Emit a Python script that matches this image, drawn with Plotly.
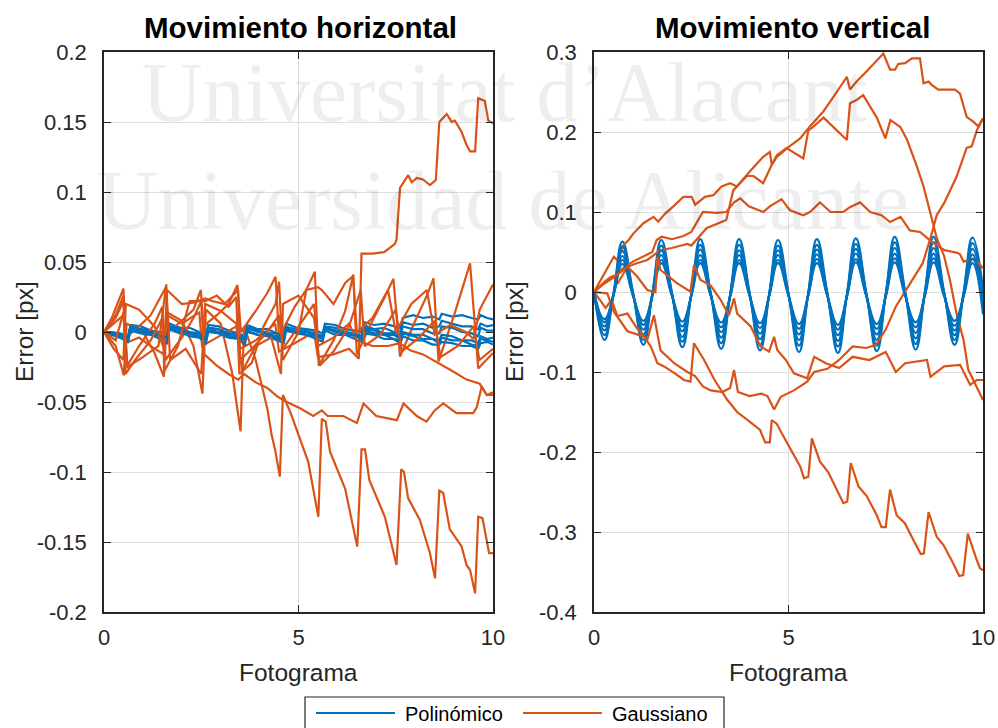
import plotly.graph_objects as go

# ---------------- data ----------------
BLUE = "#0072BD"
ORANGE = "#D95319"

# Horizontal motion: polynomial interpolation error (shared frame positions)
H_POLY_X = [0, 0.2, 0.4, 0.62,
            0.68, 0.95, 1.2, 1.45, 1.62, 1.68, 1.95, 2.2, 2.45, 2.62, 2.68, 2.95, 3.2, 3.45, 3.62,
            3.68, 3.95, 4.2, 4.45, 4.62, 4.68, 4.95, 5.2, 5.45, 5.62, 5.68, 5.95, 6.2, 6.45, 6.62,
            6.68, 6.95, 7.2, 7.45, 7.62, 7.68, 7.95, 8.2, 8.45, 8.62, 8.68, 8.95, 9.2, 9.45, 9.62,
            9.68, 9.85, 10]
H_POLY_1 = [0, 0.0, -0.001, -0.003,
            0.005, 0.004, 0.001, 0.0, -0.002,
            0.006, 0.003, 0.003, 0.0, -0.002,
            0.005, 0.004, 0.001, -0.001, -0.003,
            0.005, 0.002, 0.002, -0.001, -0.002,
            0.006, 0.003, 0.002, 0.001, -0.001,
            0.006, 0.005, 0.002, 0.001, 0.0,
            0.007, 0.005, 0.006, 0.004, 0.003,
            0.010, 0.012, 0.010, 0.011, 0.009,
            0.013, 0.011, 0.012, 0.010, 0.009,
            0.012, 0.010, 0.009]
H_POLY_2 = [0, -0.001, -0.003, -0.004,
            0.003, 0.002, -0.001, -0.002, -0.005,
            0.004, 0.001, 0.0, -0.003, -0.004,
            0.003, 0.002, -0.002, -0.002, -0.005,
            0.003, 0.0, -0.001, -0.004, -0.005,
            0.004, 0.001, 0.001, -0.002, -0.003,
            0.004, 0.003, 0.0, -0.001, -0.003,
            0.005, 0.002, 0.003, 0.0, 0.0,
            0.007, 0.005, 0.006, 0.003, 0.004,
            0.008, 0.006, 0.004, 0.004, 0.002,
            0.006, 0.004, 0.005]
H_POLY_3 = [0, -0.002, -0.003, -0.006,
            0.002, 0.001, -0.002, -0.003, -0.006,
            0.002, -0.001, -0.001, -0.004, -0.006,
            0.001, 0.0, -0.003, -0.004, -0.007,
            0.001, -0.002, -0.002, -0.005, -0.006,
            0.002, 0.001, -0.002, -0.003, -0.005,
            0.003, 0.0, 0.0, -0.003, -0.004,
            0.003, 0.002, -0.001, -0.001, -0.003,
            0.004, 0.002, 0.002, -0.001, -0.001,
            0.004, 0.003, 0.0, -0.001, -0.003,
            0.003, 0.001, 0.001]
H_POLY_4 = [0, -0.001, -0.002, -0.004,
            0.004, 0.002, 0.001, -0.002, -0.003,
            0.004, 0.003, 0.0, -0.001, -0.004,
            0.003, 0.002, -0.001, -0.002, -0.004,
            0.003, 0.002, -0.001, -0.001, -0.004,
            0.003, 0.002, 0.0, -0.001, -0.003,
            0.003, 0.001, 0.0, -0.003, -0.004,
            0.002, 0.001, -0.002, -0.002, -0.005,
            0.0, -0.002, -0.002, -0.005, -0.006,
            -0.002, -0.003, -0.006, -0.006, -0.008,
            -0.003, -0.005, -0.004]
H_POLY_5 = [0, -0.002, -0.004, -0.007,
            0.001, -0.001, -0.002, -0.005, -0.008,
            0.002, 0.0, -0.003, -0.004, -0.008,
            0.0, -0.001, -0.004, -0.005, -0.009,
            0.0, -0.002, -0.003, -0.006, -0.008,
            0.001, -0.001, -0.002, -0.005, -0.007,
            0.001, -0.002, -0.002, -0.005, -0.007,
            -0.001, -0.002, -0.005, -0.005, -0.008,
            -0.003, -0.006, -0.006, -0.009, -0.009,
            -0.007, -0.008, -0.010, -0.010, -0.012,
            -0.008, -0.007, -0.009]
H_POLY_6 = [0, -0.001, -0.003, -0.004,
            0.003, 0.0, 0.0, -0.003, -0.004,
            0.003, 0.002, -0.001, -0.002, -0.005,
            0.002, 0.0, -0.001, -0.004, -0.005,
            0.002, 0.001, -0.002, -0.003, -0.006,
            0.002, 0.0, 0.0, -0.003, -0.004,
            0.002, 0.001, -0.002, -0.002, -0.005,
            0.001, -0.001, -0.002, -0.005, -0.006,
            -0.001, -0.003, -0.005, -0.005, -0.008,
            -0.004, -0.006, -0.006, -0.009, -0.010,
            -0.005, -0.006, -0.007]

# Horizontal motion: Gaussian interpolation error, (frame, error) pairs
H_GAUSS_1 = [(0, 0), (0.25, 0.006), (0.5, 0.012), (0.55, -0.008), (0.9, -0.004), (1.3, -0.012), (1.55, -0.016),
             (1.62, 0.012), (2.0, 0.006), (2.45, 0.014), (2.52, -0.01), (2.9, -0.004), (3.4, 0.004), (3.5, -0.012),
             (3.9, -0.006), (4.4, 0.006), (4.5, -0.014), (4.9, -0.008), (5.4, 0.0), (5.5, -0.018), (5.9, -0.016),
             (6.3, -0.012), (6.55, -0.019), (6.62, 0.056), (6.9, 0.056), (7.2, 0.057), (7.48, 0.063), (7.52, 0.066),
             (7.61, 0.103), (7.82, 0.112), (7.91, 0.107), (8.04, 0.110), (8.2, 0.109), (8.38, 0.105), (8.53, 0.1086),
             (8.62, 0.150), (8.81, 0.1557), (8.94, 0.150), (9.02, 0.151), (9.19, 0.143), (9.32, 0.1336), (9.41, 0.129),
             (9.54, 0.129), (9.62, 0.167), (9.79, 0.165), (9.88, 0.151), (10, 0.149)]
H_GAUSS_2 = [(0, 0), (0.2, 0.01), (0.5, 0.031), (0.56, -0.004), (0.9, 0.004), (1.2, 0.012), (1.59, 0.032), (1.65, 0.0),
             (2.0, 0.008), (2.3, 0.016), (2.49, 0.03), (2.55, 0.004), (2.9, 0.012), (3.2, 0.02), (3.43, 0.0336),
             (3.52, 0.0), (3.9, 0.015), (4.2, 0.028), (4.41, 0.0395), (4.5, -0.004), (4.9, 0.018), (5.2, 0.03),
             (5.42, 0.043), (5.52, -0.024), (5.9, -0.006), (6.2, 0.015), (6.41, 0.041), (6.5, -0.016), (6.9, 0.008),
             (7.2, 0.024), (7.44, 0.038), (7.61, -0.0176), (8.0, 0.008), (8.3, 0.026), (8.47, 0.0383), (8.6, -0.021),
             (9.0, 0.012), (9.2, 0.03), (9.41, 0.049), (9.62, -0.026), (10, -0.015)]
H_GAUSS_3 = [(0, 0), (0.3, -0.01), (0.51, -0.031), (0.58, 0.006), (1.0, 0.0), (1.3, -0.015), (1.54, -0.032),
             (1.62, 0.014), (2.0, 0.008), (2.3, -0.01), (2.53, -0.044), (2.62, 0.016), (3.0, 0.006), (3.3, -0.03),
             (3.51, -0.071), (3.6, 0.004), (3.9, -0.02), (4.2, -0.055), (4.31, -0.0736), (4.4, -0.0843),
             (4.52, -0.1033), (4.6, -0.045), (4.8, -0.058), (5.04, -0.077), (5.25, -0.0927), (5.51, -0.132),
             (5.6, -0.062), (5.7, -0.064), (5.81, -0.0855), (6.2, -0.112), (6.51, -0.1533), (6.62, -0.0838),
             (6.71, -0.0838), (6.82, -0.1057), (7.22, -0.132), (7.52, -0.1664), (7.64, -0.098), (7.71, -0.0998),
             (7.82, -0.1188), (8.12, -0.1343), (8.38, -0.158), (8.51, -0.176), (8.62, -0.1133), (8.72, -0.115),
             (8.89, -0.141), (9.19, -0.153), (9.32, -0.1664), (9.41, -0.170), (9.54, -0.1867), (9.62, -0.132),
             (9.73, -0.133), (9.9, -0.158), (10, -0.158)]
H_GAUSS_4 = [(0, 0), (0.3, 0.01), (0.5, 0.022), (0.6, -0.024), (0.9, -0.01), (1.3, 0.006), (1.5, 0.018), (1.58, -0.02),
             (2.0, -0.004), (2.3, 0.01), (2.5, 0.022), (2.58, -0.016), (2.9, -0.024), (3.2, -0.03), (3.45, -0.034),
             (3.6, -0.03), (3.9, -0.036), (4.2, -0.04), (4.45, -0.046), (4.7, -0.05), (5.04, -0.0545), (5.38, -0.06),
             (5.6, -0.056), (5.75, -0.06), (6.15, -0.06), (6.5, -0.065), (6.67, -0.051), (7.0, -0.06), (7.53, -0.063),
             (7.7, -0.051), (8.04, -0.06), (8.29, -0.064), (8.5, -0.056), (8.72, -0.051), (9.06, -0.058),
             (9.49, -0.058), (9.58, -0.054), (9.71, -0.039), (9.84, -0.045), (10, -0.043)]
H_GAUSS_5 = [(0, 0), (0.25, -0.012), (0.5, -0.02), (0.56, 0.02), (0.9, 0.016), (1.3, 0.004), (1.55, -0.012),
             (1.62, 0.03), (2.0, 0.02), (2.3, 0.021), (2.6, 0.024), (2.8, 0.022), (3.1, 0.02), (3.45, 0.03),
             (3.5, -0.02), (3.8, -0.012), (4.2, 0.0), (4.5, 0.012), (4.6, -0.012), (5.0, 0.004), (5.4, 0.02),
             (5.5, -0.01), (5.9, -0.004), (6.3, 0.006), (6.5, -0.006), (6.9, -0.01), (7.3, -0.01), (7.6, -0.008),
             (7.87, -0.013), (8.2, -0.016), (8.46, -0.02), (8.9, -0.027), (9.32, -0.034), (9.66, -0.037),
             (9.84, -0.045), (10, -0.045)]
H_GAUSS_6 = [(0, 0), (0.3, 0.012), (0.5, 0.026), (0.55, -0.03), (0.8, -0.02), (1.2, -0.006), (1.5, 0.01),
             (1.55, -0.028), (1.9, -0.01), (2.2, 0.022), (2.6, 0.022), (2.9, 0.026), (3.2, 0.018), (3.4, 0.025),
             (3.48, -0.03), (3.8, -0.022), (4.1, 0.004), (4.41, 0.02), (4.5, 0.036), (4.6, -0.02), (5.0, 0.0),
             (5.2, 0.03), (5.5, 0.032), (5.6, 0.03), (5.9, 0.02), (6.2, 0.035), (6.4, 0.04), (6.5, 0.0), (6.9, 0.01),
             (7.3, 0.03), (7.5, 0.0), (7.9, 0.02), (8.3, 0.03), (8.5, -0.002), (8.9, 0.005), (9.3, 0.0),
             (9.5, -0.005), (9.66, 0.016), (10, 0.034)]
H_GAUSS_7 = [(0, 0), (0.3, -0.006), (0.5, 0.014), (0.6, -0.025), (1.0, -0.018), (1.4, -0.01), (1.6, 0.034),
             (1.7, -0.02), (2.1, -0.012), (2.5, -0.03), (2.6, 0.02), (3.0, 0.015), (3.4, 0.006), (3.55, -0.028),
             (3.9, -0.01), (4.3, -0.004), (4.55, -0.03), (4.6, 0.02), (5.0, 0.026), (5.4, 0.01), (5.55, -0.024),
             (5.9, -0.014), (6.3, 0.004), (6.6, 0.03), (6.7, -0.01), (7.1, -0.002), (7.5, 0.016), (7.65, -0.014),
             (8.1, -0.004), (8.5, 0.008), (8.65, -0.018), (9.1, -0.01), (9.5, 0.004), (9.65, -0.02), (10, -0.012)]

# Vertical motion: polynomial interpolation error (trough / mid / crest / mid per frame)
V_POLY_X = [0,
            0.27, 0.5, 0.73, 1.0, 1.27, 1.5, 1.73, 2.0, 2.27, 2.5, 2.73, 3.0, 3.27, 3.5, 3.73, 4.0,
            4.27, 4.5, 4.73, 5.0, 5.27, 5.5, 5.73, 6.0, 6.27, 6.5, 6.73, 7.0, 7.27, 7.5, 7.73, 8.0,
            8.27, 8.5, 8.73, 9.0, 9.27, 9.5, 9.73, 10]
V_POLY_1 = [0,
            -0.060, -0.002, 0.063, 0.0, -0.066, -0.002, 0.065, 0.0, -0.069, -0.003, 0.066, -0.001,
            -0.071, -0.003, 0.066, -0.001, -0.073, -0.004, 0.065, -0.002, -0.075, -0.004, 0.066, -0.002,
            -0.076, -0.004, 0.067, -0.001, -0.074, -0.003, 0.069, 0.0, -0.072, -0.002, 0.069, 0.0,
            -0.066, -0.001, 0.068, 0.004]
V_POLY_2 = [0,
            -0.054, -0.003, 0.057, -0.001, -0.060, -0.003, 0.058, -0.001, -0.062, -0.003, 0.059, -0.002,
            -0.064, -0.004, 0.059, -0.002, -0.066, -0.004, 0.058, -0.003, -0.067, -0.004, 0.059, -0.003,
            -0.068, -0.004, 0.060, -0.002, -0.067, -0.003, 0.062, -0.001, -0.065, -0.003, 0.062, -0.001,
            -0.060, -0.002, 0.061, -0.004]
V_POLY_3 = [0,
            -0.048, -0.003, 0.051, -0.002, -0.053, -0.003, 0.052, -0.002, -0.056, -0.004, 0.053, -0.002,
            -0.057, -0.004, 0.052, -0.003, -0.059, -0.004, 0.052, -0.003, -0.060, -0.005, 0.053, -0.003,
            -0.061, -0.004, 0.054, -0.003, -0.060, -0.003, 0.055, -0.002, -0.058, -0.003, 0.055, -0.002,
            -0.054, -0.003, 0.054, -0.008]
V_POLY_4 = [0,
            -0.043, -0.004, 0.045, -0.003, -0.047, -0.004, 0.046, -0.003, -0.049, -0.004, 0.046, -0.003,
            -0.050, -0.005, 0.046, -0.004, -0.052, -0.005, 0.046, -0.004, -0.053, -0.005, 0.047, -0.004,
            -0.054, -0.005, 0.048, -0.004, -0.053, -0.004, 0.048, -0.003, -0.051, -0.004, 0.048, -0.003,
            -0.048, -0.004, 0.047, -0.012]
V_POLY_5 = [0,
            -0.038, -0.004, 0.040, -0.004, -0.041, -0.005, 0.040, -0.004, -0.043, -0.005, 0.040, -0.004,
            -0.044, -0.005, 0.040, -0.004, -0.045, -0.005, 0.040, -0.004, -0.046, -0.006, 0.041, -0.005,
            -0.047, -0.006, 0.041, -0.005, -0.046, -0.005, 0.042, -0.004, -0.044, -0.005, 0.042, -0.004,
            -0.042, -0.005, 0.041, -0.020]
V_POLY_6 = [0,
            -0.034, -0.004, 0.035, -0.004, -0.036, -0.005, 0.036, -0.004, -0.037, -0.005, 0.036, -0.005,
            -0.038, -0.006, 0.036, -0.005, -0.039, -0.006, 0.036, -0.005, -0.040, -0.006, 0.036, -0.005,
            -0.041, -0.006, 0.037, -0.005, -0.040, -0.006, 0.037, -0.005, -0.038, -0.006, 0.037, -0.005,
            -0.036, -0.006, 0.036, -0.028]

# Vertical motion: Gaussian interpolation error, (frame, error) pairs
V_GAUSS_1 = [(0, 0), (0.25, 0.022), (0.51, 0.044), (0.6, 0.04), (0.75, 0.058), (0.89, 0.065), (1.01, 0.073),
             (1.27, 0.086), (1.53, 0.094), (1.65, 0.088), (1.83, 0.098), (2.04, 0.107), (2.3, 0.119), (2.51, 0.119),
             (2.6, 0.109), (2.85, 0.119), (3.07, 0.121), (3.28, 0.132), (3.5, 0.136), (3.67, 0.132), (3.88, 0.144),
             (4.05, 0.153), (4.35, 0.169), (4.52, 0.175), (4.57, 0.159), (4.7, 0.169), (5.0, 0.181), (5.3, 0.192),
             (5.55, 0.207), (5.9, 0.226), (6.24, 0.25), (6.5, 0.269), (6.58, 0.253), (6.75, 0.263), (7.01, 0.276),
             (7.44, 0.298), (7.61, 0.278), (7.74, 0.278), (7.82, 0.285), (8.0, 0.286), (8.17, 0.292), (8.38, 0.292),
             (8.47, 0.261), (8.6, 0.263), (8.68, 0.259), (8.85, 0.253), (9.28, 0.253), (9.41, 0.248), (9.58, 0.219),
             (9.75, 0.213), (9.88, 0.207), (10, 0.217)]
V_GAUSS_2 = [(0, 0), (0.3, 0.014), (0.51, 0.02), (0.6, 0.01), (0.86, 0.0315), (1.1, 0.036), (1.37, 0.04),
             (1.5, 0.045), (1.7, 0.052), (2.0, 0.055), (2.4, 0.06), (2.5, 0.058), (2.77, 0.072), (2.9, 0.08),
             (3.15, 0.085), (3.4, 0.09), (3.58, 0.127), (3.93, 0.145), (4.1, 0.145), (4.35, 0.136), (4.56, 0.158),
             (4.7, 0.171), (4.95, 0.18), (5.38, 0.167), (5.51, 0.202), (5.6, 0.205), (5.9, 0.218), (6.24, 0.202),
             (6.5, 0.19), (6.58, 0.236), (6.75, 0.24), (6.92, 0.246), (7.27, 0.218), (7.49, 0.192), (7.62, 0.215),
             (7.88, 0.206), (8.05, 0.19), (8.3, 0.157), (8.47, 0.132), (8.64, 0.1), (8.81, 0.0675), (9.0, 0.045),
             (9.15, 0.015), (9.32, -0.027), (9.5, -0.06), (9.62, -0.097), (9.84, -0.118), (10, -0.135)]
V_GAUSS_3 = [(0, 0), (0.4, 0.018), (0.56, 0.021), (0.75, 0.03), (1.0, 0.038), (1.3, 0.045), (1.5, 0.05),
             (1.61, 0.065), (1.74, 0.069), (2.0, 0.066), (2.3, 0.07), (2.5, 0.075), (2.8, 0.1), (3.15, 0.099),
             (3.4, 0.1), (3.6, 0.112), (3.76, 0.117), (3.98, 0.107), (4.35, 0.1), (4.52, 0.107), (4.82, 0.116),
             (5.04, 0.102), (5.38, 0.096), (5.55, 0.1), (5.81, 0.112), (6.08, 0.1), (6.41, 0.1), (6.58, 0.106),
             (6.84, 0.112), (7.1, 0.1), (7.39, 0.096), (7.61, 0.0875), (7.88, 0.094), (8.12, 0.077), (8.38, 0.075),
             (8.7, 0.062), (9.0, 0.0525), (9.34, 0.049), (9.41, 0.047), (9.5, 0.038), (9.75, 0.042), (10, 0.03)]
V_GAUSS_4 = [(0, 0), (0.34, -0.0017), (0.51, -0.0246), (0.86, -0.049), (1.29, -0.056), (1.46, -0.068),
             (1.63, -0.089), (1.8, -0.093), (2.06, -0.101), (2.31, -0.11), (2.48, -0.112), (2.57, -0.064),
             (2.83, -0.085), (3.1, -0.11), (3.43, -0.135), (3.68, -0.15), (4.0, -0.162), (4.27, -0.1725),
             (4.4, -0.188), (4.52, -0.188), (4.57, -0.16), (4.7, -0.165), (4.83, -0.177), (5.04, -0.195),
             (5.3, -0.218), (5.4, -0.233), (5.51, -0.231), (5.6, -0.183), (5.81, -0.212), (6.02, -0.225),
             (6.28, -0.25), (6.41, -0.264), (6.51, -0.262), (6.6, -0.214), (6.8, -0.243), (7.01, -0.255),
             (7.27, -0.279), (7.39, -0.294), (7.5, -0.294), (7.61, -0.247), (7.78, -0.279), (7.99, -0.289),
             (8.21, -0.31), (8.4, -0.3275), (8.48, -0.327), (8.6, -0.275), (8.81, -0.306), (8.98, -0.316),
             (9.19, -0.335), (9.39, -0.355), (9.49, -0.354), (9.61, -0.302), (9.84, -0.335), (9.92, -0.345),
             (10, -0.348)]
V_GAUSS_5 = [(0, 0), (0.3, -0.02), (0.45, -0.01), (0.6, -0.03), (0.86, -0.027), (1.1, -0.045), (1.37, -0.06),
             (1.54, -0.029), (1.71, -0.073), (2.06, -0.089), (2.4, -0.1), (2.6, -0.105), (2.8, -0.118), (3.0, -0.123),
             (3.3, -0.125), (3.5, -0.12), (3.6, -0.0975), (3.7, -0.125), (4.0, -0.13), (4.3, -0.127), (4.46, -0.13),
             (4.63, -0.147), (4.8, -0.131), (5.14, -0.123), (5.48, -0.112), (5.66, -0.1), (6.0, -0.096),
             (6.3, -0.085), (6.65, -0.068), (7.0, -0.07), (7.25, -0.066), (7.5, -0.047), (7.76, -0.018),
             (8.1, 0.008), (8.45, 0.036), (8.66, 0.069), (8.81, 0.096), (9.0, 0.111), (9.32, 0.144), (9.58, 0.18),
             (9.71, 0.182), (9.84, 0.202), (10, 0.217)]
V_GAUSS_6 = [(0, 0), (0.25, 0.01), (0.5, 0.018), (0.86, 0.0315), (1.1, 0.02), (1.37, 0.0025), (1.58, 0.0),
             (1.63, 0.044), (1.71, 0.0275), (2.14, 0.0108), (2.48, 0.0004), (2.57, 0.0337), (2.74, 0.015),
             (3.0, 0.008), (3.26, -0.01), (3.47, -0.029), (3.6, -0.008), (3.68, -0.027), (4.03, -0.043),
             (4.28, -0.068), (4.5, -0.0746), (4.63, -0.056), (4.71, -0.0725), (4.93, -0.085), (5.14, -0.1017),
             (5.48, -0.108), (5.66, -0.081), (5.96, -0.089), (6.3, -0.095), (6.65, -0.081), (7.08, -0.085),
             (7.5, -0.075), (7.76, -0.1), (8.0, -0.089), (8.56, -0.085), (8.65, -0.106), (9.0, -0.093),
             (9.41, -0.091), (9.67, -0.116), (9.84, -0.11), (10, -0.11)]

X_TICKS = [0, 5, 10]
H_Y_TICKS = [0.2, 0.15, 0.1, 0.05, 0, -0.05, -0.1, -0.15, -0.2]
H_Y_LABELS = ["0.2", "0.15", "0.1", "0.05", "0", "-0.05", "-0.1", "-0.15", "-0.2"]
V_Y_TICKS = [0.3, 0.2, 0.1, 0, -0.1, -0.2, -0.3, -0.4]
V_Y_LABELS = ["0.3", "0.2", "0.1", "0", "-0.1", "-0.2", "-0.3", "-0.4"]

H_POLY = [H_POLY_1, H_POLY_2, H_POLY_3, H_POLY_4, H_POLY_5, H_POLY_6]
H_GAUSS = [H_GAUSS_1, H_GAUSS_2, H_GAUSS_3, H_GAUSS_4, H_GAUSS_5, H_GAUSS_6, H_GAUSS_7]
V_POLY = [V_POLY_1, V_POLY_2, V_POLY_3, V_POLY_4, V_POLY_5, V_POLY_6]
V_GAUSS = [V_GAUSS_1, V_GAUSS_2, V_GAUSS_3, V_GAUSS_4, V_GAUSS_5, V_GAUSS_6]

# ---------------- figure ----------------
W, H = 998, 728
FONT = "Liberation Sans, Arial, sans-serif"
AX = "#262626"
LW = 2.2


def px(x):
    return x / W


def py(y):
    return 1 - y / H


fig = go.Figure()


def add_panel(poly_x, poly_sets, gauss_sets, xa, ya, poly_line):
    n = max(len(poly_sets), len(gauss_sets))
    for i in range(n):
        if i < len(poly_sets):
            fig.add_trace(go.Scatter(x=poly_x, y=poly_sets[i], mode="lines", xaxis=xa, yaxis=ya,
                                     line=dict(color=BLUE, width=LW, **poly_line),
                                     showlegend=False, hoverinfo="skip"))
        if i < len(gauss_sets):
            xs = [p[0] for p in gauss_sets[i]]
            ys = [p[1] for p in gauss_sets[i]]
            fig.add_trace(go.Scatter(x=xs, y=ys, mode="lines", xaxis=xa, yaxis=ya,
                                     line=dict(color=ORANGE, width=LW),
                                     showlegend=False, hoverinfo="skip"))


add_panel(H_POLY_X, H_POLY, H_GAUSS, "x", "y", dict(shape="linear"))
add_panel(V_POLY_X, V_POLY, V_GAUSS, "x2", "y2", dict(shape="spline", smoothing=1.3))

ydom = [py(612), py(52)]
common_axis = dict(showline=True, linecolor=AX, linewidth=1.5, mirror="ticks", ticks="inside",
                   ticklen=7, tickwidth=1.2, tickcolor=AX, showgrid=True, gridcolor="#dedede",
                   gridwidth=1, zeroline=False, automargin=False,
                   tickfont=dict(family=FONT, size=22, color=AX))

fig.update_layout(
    width=W, height=H, margin=dict(l=0, r=0, t=0, b=0, pad=0, autoexpand=False),
    paper_bgcolor="white", plot_bgcolor="white", showlegend=False,
    xaxis=dict(domain=[px(104), px(493)], range=[0, 10], tickvals=X_TICKS, ticklabelstandoff=5,
               anchor="y", **common_axis),
    yaxis=dict(domain=ydom, range=[-0.2, 0.2], tickvals=H_Y_TICKS, ticktext=H_Y_LABELS,
               ticklabelstandoff=11, anchor="x", **common_axis),
    xaxis2=dict(domain=[px(594), px(983)], range=[0, 10], tickvals=X_TICKS, ticklabelstandoff=5,
                anchor="y2", **common_axis),
    yaxis2=dict(domain=ydom, range=[-0.4, 0.3], tickvals=V_Y_TICKS, ticktext=V_Y_LABELS,
                ticklabelstandoff=11, anchor="x2", **common_axis),
)

ann = []
# faint institutional watermark
for text, x0, ymid in [("Universitat d\u2019Alacant", 140, 92), ("Universidad de Alicante", 95, 200)]:
    ann.append(dict(text=text, x=px(x0), y=py(ymid), xref="paper", yref="paper", xanchor="left",
                    yanchor="middle", showarrow=False,
                    font=dict(family="Liberation Serif, Times New Roman, serif", size=84,
                              color="rgba(0,0,0,0.068)")))
# panel titles
for text, cx in [("Movimiento horizontal", 300), ("Movimiento vertical", 792)]:
    ann.append(dict(text="<b>%s</b>" % text, x=px(cx), y=py(28), xref="paper", yref="paper",
                    xanchor="center", yanchor="middle", showarrow=False,
                    font=dict(family=FONT, size=29.5, color="black")))
# axis titles
for cx in [298.5, 788.5]:
    ann.append(dict(text="Fotograma", x=px(cx), y=py(672), xref="paper", yref="paper",
                    xanchor="center", yanchor="middle", showarrow=False,
                    font=dict(family=FONT, size=24.5, color=AX)))
for cx in [25, 515]:
    ann.append(dict(text="Error [px]", x=px(cx), y=py(332), xref="paper", yref="paper",
                    xanchor="center", yanchor="middle", showarrow=False, textangle=-90,
                    font=dict(family=FONT, size=24.5, color=AX)))
# legend entries
for text, tx in [("Polinómico", 403), ("Gaussiano", 610)]:
    ann.append(dict(text=text, x=px(tx), y=py(714), xref="paper", yref="paper",
                    xanchor="left", yanchor="middle", showarrow=False,
                    font=dict(family=FONT, size=20, color="black")))
fig.update_layout(annotations=ann)

shapes = [
    dict(type="rect", xref="paper", yref="paper", x0=px(305), x1=px(724), y0=py(745), y1=py(697),
         line=dict(color=AX, width=1.2), fillcolor="white", layer="below"),
    dict(type="line", xref="paper", yref="paper", x0=px(316), x1=px(395), y0=py(713), y1=py(713),
         line=dict(color=BLUE, width=LW)),
    dict(type="line", xref="paper", yref="paper", x0=px(523), x1=px(602), y0=py(713), y1=py(713),
         line=dict(color=ORANGE, width=LW)),
]
fig.update_layout(shapes=shapes)

fig.write_html("out.html")
